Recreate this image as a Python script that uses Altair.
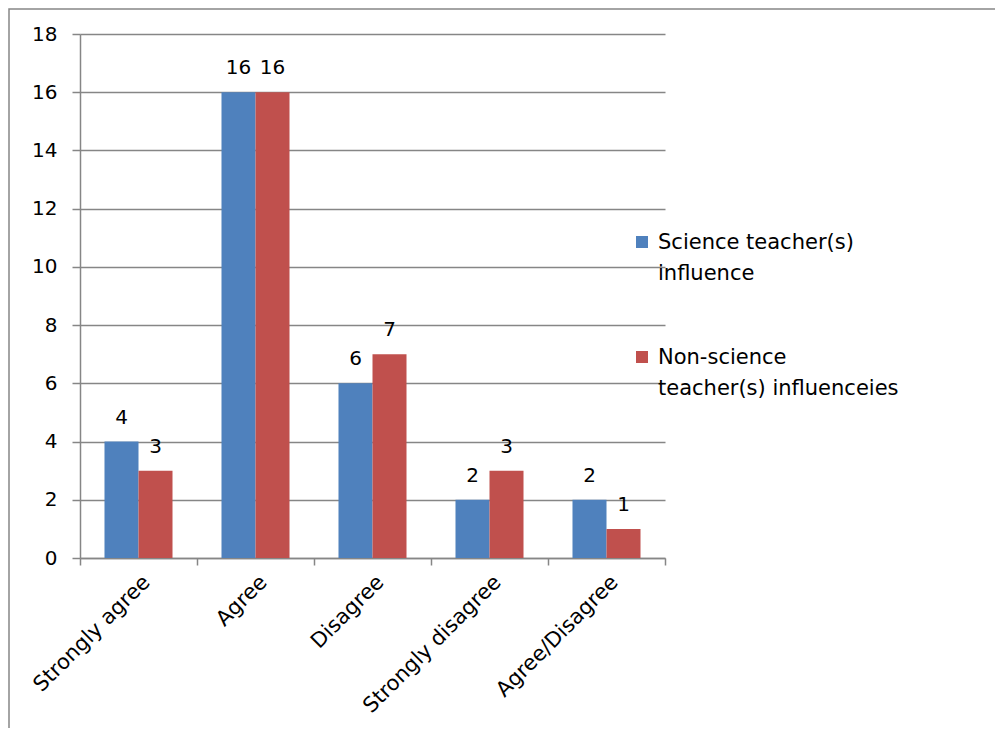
import altair as alt
import pandas as pd

categories = ["Strongly agree", "Agree", "Disagree", "Strongly disagree", "Agree/Disagree"]
science = [4, 16, 6, 2, 2]
non_science = [3, 16, 7, 3, 1]
series = ["Science teacher(s) influence", "Non-science teacher(s) influenceies"]
legend_lines = [["Science teacher(s)", "influence"], ["Non-science", "teacher(s) influenceies"]]
colors = ["#4F81BD", "#C0504D"]
y_ticks = list(range(0, 19, 2))

rows = []
for c, a, b in zip(categories, science, non_science):
    rows.append({"category": c, "series": series[0], "value": a})
    rows.append({"category": c, "series": series[1], "value": b})
df = pd.DataFrame(rows)
leg_df = pd.DataFrame({"series": series, "lines": legend_lines})

FONT = "DejaVu Sans"
FS = 20
FS_X = 21
FS_LEG = 21
GRAY = "#868686"

x_enc = alt.X("category:N", sort=categories,
              scale=alt.Scale(paddingInner=0, paddingOuter=0),
              axis=alt.Axis(title=None, labelAngle=-45, tickBand="extent",
                            domainColor=GRAY, domainWidth=1.5, tickColor=GRAY, tickWidth=1.5,
                            tickSize=7, labelFont=FONT, labelFontSize=FS_X, labelColor="black",
                            labelPadding=6, labelLimit=400, grid=False))
xo_enc = alt.XOffset("series:N", sort=series,
                     scale=alt.Scale(paddingInner=0, paddingOuter=0.72))
y_enc = alt.Y("value:Q", scale=alt.Scale(domain=[0, 18], nice=False),
              axis=alt.Axis(title=None, values=y_ticks, grid=True, gridColor=GRAY,
                            gridWidth=1.5, domainColor=GRAY, domainWidth=1.5,
                            tickColor=GRAY, tickWidth=1.5, tickSize=8,
                            labelFont=FONT, labelFontSize=FS, labelColor="black",
                            labelPadding=15))
color_enc = alt.Color("series:N", scale=alt.Scale(domain=series, range=colors), legend=None)

bars = alt.Chart(df).mark_bar().encode(x=x_enc, xOffset=xo_enc, y=y_enc, color=color_enc)
labels = alt.Chart(df).mark_text(font=FONT, fontSize=FS, color="black",
                                 baseline="alphabetic", dy=-18).encode(
    x=x_enc, xOffset=xo_enc, y=y_enc, text="value:Q")
main = alt.layer(bars, labels)

leg_y = alt.Y("series:N", sort=series, scale=alt.Scale(range=[208, 323], padding=0), axis=None)
leg_sym = alt.Chart(leg_df).mark_square(size=144, opacity=1).encode(
    x=alt.value(562), y=leg_y,
    color=alt.Color("series:N", scale=alt.Scale(domain=series, range=colors), legend=None))
leg_txt = alt.Chart(leg_df).mark_text(font=FONT, fontSize=FS_LEG, color="black", align="left",
                                      baseline="top", dy=-10, lineHeight=31).encode(
    x=alt.value(578), y=leg_y, text="lines")
legend = alt.layer(leg_sym, leg_txt)

frame = alt.Chart(leg_df.head(1)).mark_rect(fill=None, stroke=GRAY, strokeWidth=1.5, clip=False).encode(
    x=alt.value(-71), x2=alt.value(1000), y=alt.value(-25), y2=alt.value(800))

chart = alt.layer(frame, main, legend).resolve_scale(
    y="independent"
).properties(
    width=585, height=524,
    autosize=alt.AutoSizeParams(type="none"),
    padding={"left": 72, "top": 26, "right": 330, "bottom": 170},
).configure_view(stroke=None)

chart.save("out.html", embed_options={"renderer": "svg", "actions": False})
